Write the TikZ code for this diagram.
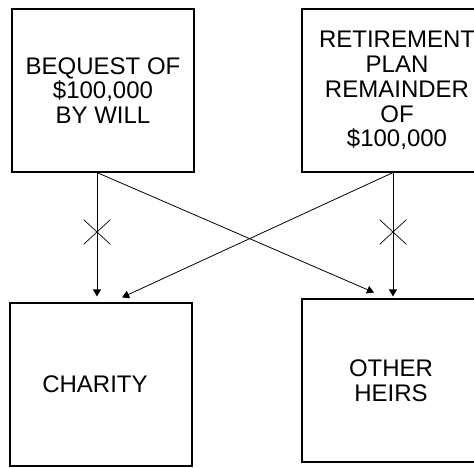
\documentclass[tikz,border=0pt]{standalone}
\usepackage{fontspec}
\setmainfont{Liberation Sans}
\usetikzlibrary{arrows.meta,shapes.misc}
\tikzset{
  box/.style={draw, line width=1.1pt, rectangle, minimum height=163pt, align=center,
    font=\fontsize{24}{24.8}\selectfont, inner sep=0pt},
  conn/.style={line width=0.8pt, -{Triangle[length=7pt,width=8pt]}},
  xmark/.style={cross out, draw, line width=0.7pt, minimum width=26pt, minimum height=24pt, inner sep=0pt}
}
\begin{document}
\begin{tikzpicture}[x=1pt,y=-1pt]
\path[use as bounding box, clip] (0,0) rectangle (474,468);
\node[box, minimum width=182pt] (tl) at (103,90.5) {BEQUEST OF\\\$100,000\\BY WILL};
\node[box, minimum width=190pt] (tr) at (397,90.5) {RETIREMENT\\PLAN\\REMAINDER\\OF\\\$100,000};
\node[box, minimum width=182pt] (bl) at (101,384.5) {CHARITY\hspace*{12pt}};
\node[box, minimum width=178pt] (br) at (391,380.5) {OTHER\\HEIRS};
\coordinate (xl) at (97,0);
\coordinate (xr) at (393,0);
\coordinate (xd1) at (387.7,0);
\coordinate (xd2) at (111.2,0);
\draw[conn, shorten >=6pt] (tl.south -| xl) -- (bl.north -| xl);
\draw[conn, shorten >=2pt] (tr.south -| xr) -- (br.north -| xr);
\draw[conn, shorten >=15pt] (tl.south -| xl) -- (br.north -| xd1);
\draw[conn, shorten >=12pt] (tr.south -| xr) -- (bl.north -| xd2);
\node[xmark] (c1) at (97,232) {};
\node[xmark] (c2) at (393,232) {};
\end{tikzpicture}
\end{document}
